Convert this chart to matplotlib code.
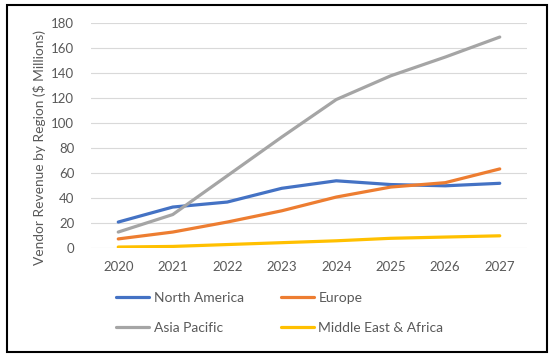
import matplotlib
matplotlib.use("Agg")
import matplotlib.pyplot as plt
from matplotlib.patches import Rectangle

years = ["2020", "2021", "2022", "2023", "2024", "2025", "2026", "2027"]
north_america = [21, 33, 37, 48, 54, 51, 50, 52]
europe = [7.5, 13, 21, 30, 41, 49, 52.5, 63.5]
asia_pacific = [13, 27, 58, 89, 119, 138, 153, 169]
middle_east_africa = [1, 1.5, 3, 4.5, 6, 8, 9, 10]
y_ticks = [0, 20, 40, 60, 80, 100, 120, 140, 160, 180]

series = [
    ("North America", north_america, "#4472C4"),
    ("Europe", europe, "#ED7D31"),
    ("Asia Pacific", asia_pacific, "#A5A5A5"),
    ("Middle East & Africa", middle_east_africa, "#FFC000"),
]

plt.rcParams['font.family'] = ['Lato', 'DejaVu Sans']

W, H = 551, 356
fig = plt.figure(figsize=(W / 100, H / 100), dpi=100)
fig.patch.set_facecolor("white")

ax = fig.add_axes([91 / W, (H - 248.3) / H, 436 / W, 225 / H])
x = list(range(len(years)))
handles = {}
for name, vals, col in series:
    (h,) = ax.plot(x, vals, color=col, linewidth=2.3, solid_capstyle="round", label=name)
    handles[name] = h

ax.set_xlim(-0.5, len(years) - 0.5)
ax.set_ylim(0, 180)
ax.set_yticks(y_ticks)
ax.set_xticks(x)
ax.set_xticklabels(years)
ax.grid(axis="y", color="#D9D9D9", linewidth=0.8)
ax.set_axisbelow(True)
for s in ax.spines.values():
    s.set_visible(False)
ax.tick_params(axis="both", length=0, labelsize=9.5, colors="#595959")
ax.tick_params(axis="y", pad=12)
ax.tick_params(axis="x", pad=9)
ylab = ax.set_ylabel("Vendor Revenue by Region ($ Millions)", fontsize=10, color="#595959")
ax.yaxis.set_label_coords((46 - 91) / 436, (248.3 - 147.5) / 225)

# fit label length to about 235 px
fig.canvas.draw()
r = fig.canvas.get_renderer()
ext = ylab.get_window_extent(r)
ylab.set_fontsize(10 * 235 / ext.height)

order = ["North America", "Asia Pacific", "Europe", "Middle East & Africa"]
fig.legend([handles[n] for n in order], order, ncol=2, frameon=False,
           loc="upper left", bbox_to_anchor=(116 / W, 1 - 292 / H),
           fontsize=10, labelcolor="#595959", handlelength=2.4, handletextpad=0.3,
           columnspacing=2.7, labelspacing=1.3, borderaxespad=0, borderpad=0)

fig.patches.append(Rectangle((7 / W, 1 - 352 / H), 540 / W, 347 / H, transform=fig.transFigure,
                             fill=False, edgecolor="black", linewidth=1.5))

fig.savefig("out.png", dpi=100)
